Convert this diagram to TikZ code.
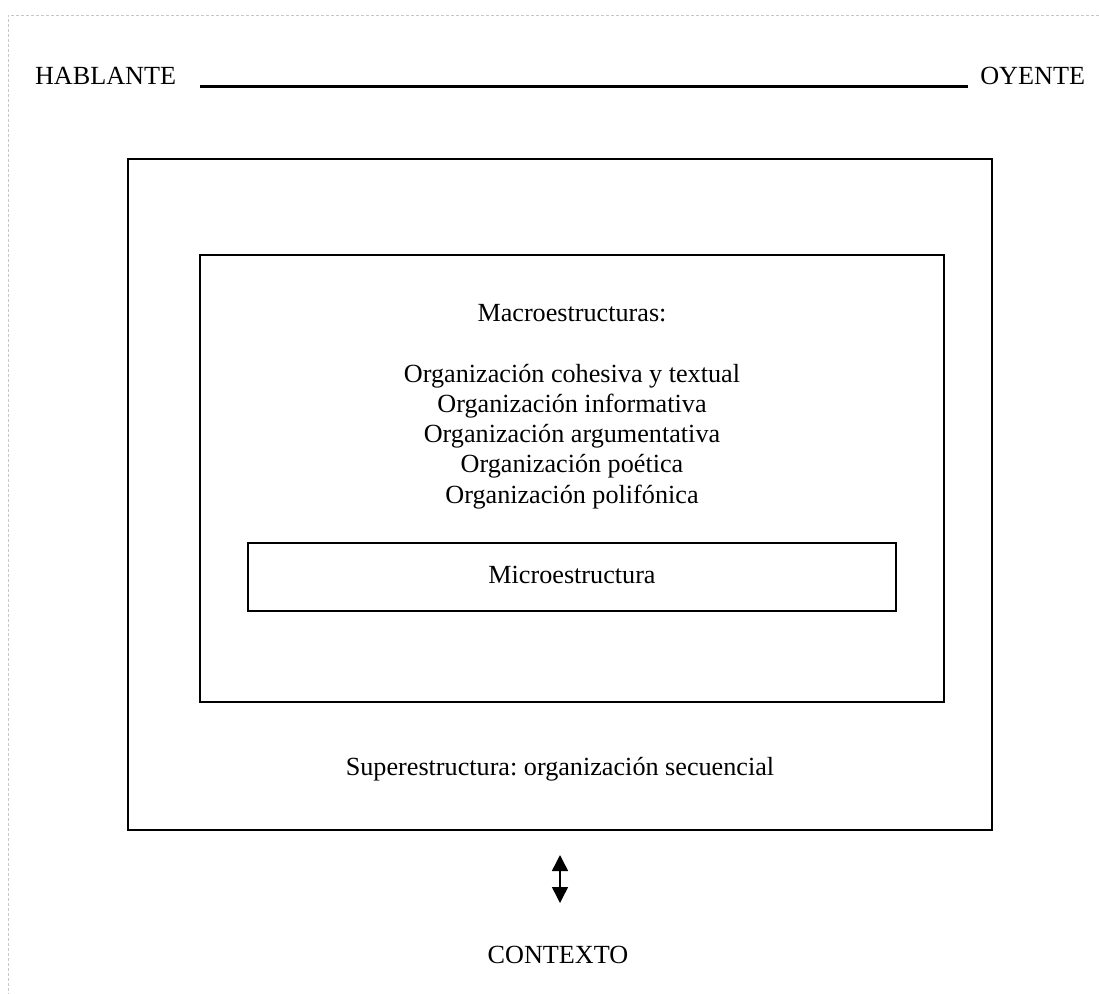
\documentclass[tikz,border=0pt]{standalone}
\usepackage{fontspec}
\setmainfont{Liberation Serif}
\usetikzlibrary{arrows.meta}
\frenchspacing
\begin{document}
\begin{tikzpicture}[x=0.02cm,y=-0.02cm,
  every node/.style={inner sep=0pt,outer sep=0pt,font=\fontsize{14.9}{17}\selectfont},
  lbl/.style={anchor=base},
  frame/.style={draw=black,line width=0.04cm},
  pageedge/.style={draw=black!22,line width=0.02cm,dash pattern=on 0.06cm off 0.04cm}]
  \useasboundingbox (0,0) rectangle (1099,994);
  % page edge
  \draw[pageedge] (1099,15) -- (8,15) -- (8,994);
  % speaker -- listener
  \node[lbl,anchor=base west] (hab) at (35,84) {HABLANTE};
  \node[lbl,anchor=base east] (oye) at (1085,84) {OYENTE};
  \coordinate (la) at (200,86.5);
  \coordinate (lb) at (968,86.5);
  \draw[line width=0.045cm] (la) -- (lb);
  % nested structures
  \draw[frame] (128,159) rectangle (992,830);
  \draw[frame] (200,255) rectangle (944,702);
  \node[frame,minimum width=648*0.02cm,minimum height=68*0.02cm,anchor=north west] (micro) at (248,543) {};
  \node[lbl] (macro) at (572,321) {Macroestructuras:};
  \node[lbl] (m1) at (572,382) {Organización cohesiva y textual};
  \node[lbl] (m2) at (572,412) {Organización informativa};
  \node[lbl] (m3) at (572,442) {Organización argumentativa};
  \node[lbl] (m4) at (572,472.5) {Organización poética};
  \node[lbl] (m5) at (572,503) {Organización polifónica};
  \node[lbl] (mtxt) at (572,583) {Microestructura};
  \node[lbl] (super) at (560,775) {Superestructura: organización secuencial};
  % context
  \coordinate (at) at (560,855);
  \coordinate (ab) at (560,903);
  \draw[line width=0.03cm,{Triangle[length=0.32cm,width=0.32cm]}-{Triangle[length=0.32cm,width=0.32cm]}] (at) -- (ab);
  \node[lbl] (ctx) at (558,963) {CONTEXTO};
\end{tikzpicture}
\end{document}
